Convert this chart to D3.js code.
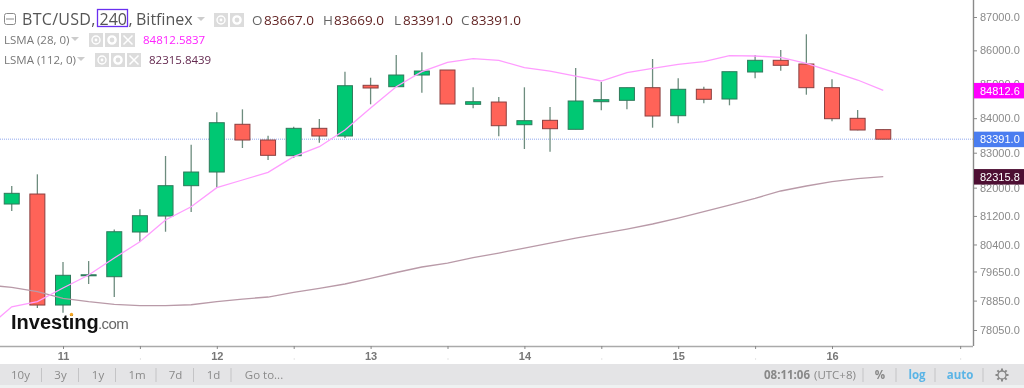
<!DOCTYPE html>
<html><head><meta charset="utf-8">
<style>html,body{margin:0;padding:0;background:#fff;overflow:hidden}svg{display:block;filter:blur(0.4px)}</style>
<script src="https://cdnjs.cloudflare.com/ajax/libs/d3/7.8.5/d3.min.js"></script>
</head><body><svg id="c" width="1024" height="388"></svg>
<script>
const candleOpen=[81536,81819,78729,79539,79506,80748,81197,82056,82446,83822,83366,82914,83705,83482,84963,84922,85267,85415,84405,84472,83810,83938,83676,84481,84522,84893,84072,84846,84560,85356,85703,85593,84893,83996,83667];
const candleHigh=[82047,82380,79912,79939,80818,81386,82905,83231,84171,84258,83491,83752,83976,85365,85187,85861,85941,85415,84904,84619,84904,84326,85474,85060,84893,85742,85169,84922,85365,85861,86010,86480,85140,84238,83669];
const candleLow=[81338,78647,78519,79305,78948,80477,80756,81310,82000,83136,82790,82848,83288,83424,84405,84913,84746,84414,84288,83473,83107,83029,83676,84229,84258,83723,83851,84434,84376,85169,85394,84687,83909,83647,83391];
const candleClose=[81839,78729,79545,79559,80756,81206,82056,82446,83868,83366,82925,83705,83482,84951,84884,85267,85385,84414,84481,83781,83927,83694,84502,84540,84893,84063,84846,84552,85365,85703,85555,84893,83985,83656,83391];
const lsma28=[78077,78682,78825,79195,79553,80023,80477,81085,81459,82000,82218,82437,82886,83173,83656,84297,84922,85365,85644,85751,85703,85483,85385,85237,85090,85336,85465,85584,85662,85840,85831,85792,85614,85365,85119,84812.58];
const lsma112=[79277,79214,79093,78913,78820,78748,78710,78710,78737,78820,78893,78948,79077,79187,79305,79462,79622,79774,79884,80036,80162,80301,80440,80580,80706,80832,80973,81141,81324,81508,81697,81905,82047,82170,82255,82315.84];
const priceTicks=[78050,78850,79650,80400,81200,82000,83000,84000,85000,86000,87000];
const timeTickIndex=[2,5,8,11,14,17,20,23,26,29,32,37];
const timeTickLabels=["11","","12","","13","","14","","15","","16",""];
const rangeButtons=["10y","3y","1y","1m","7d","1d","Go to..."];
const lastPrice=83391, ma28Last=84812.6, ma112Last=82315.8;

const svg=d3.select("#c");
const F="'Liberation Sans',Arial,sans-serif", H="'Open Sans',sans-serif";
const W=973,B=346;
const x=d3.scaleLinear().domain([2,32]).range([63,832]);
const y=d3.scaleLog().domain([78050,87000]).range([330,17]);
svg.append("defs").append("clipPath").attr("id","plot").append("rect").attr("width",W).attr("height",B);
const plot=svg.append("g").attr("clip-path","url(#plot)");

plot.append("line").attr("x1",0).attr("x2",W).attr("y1",y(lastPrice)).attr("y2",y(lastPrice))
 .attr("stroke","#8fa8ee").attr("stroke-width",1).attr("stroke-dasharray","1 1");

const candles=d3.range(candleOpen.length);
const g=plot.selectAll("g.k").data(candles).join("g").attr("class","k");
g.append("line").attr("x1",i=>x(i)).attr("x2",i=>x(i)).attr("y1",i=>y(candleHigh[i])).attr("y2",i=>y(candleLow[i]))
 .attr("stroke","#6d8c7e").attr("stroke-width",1.3);
g.append("rect").attr("x",i=>x(i)-7.5).attr("width",15)
 .attr("y",i=>y(Math.max(candleOpen[i],candleClose[i])))
 .attr("height",i=>Math.max(1,Math.abs(y(candleOpen[i])-y(candleClose[i]))))
 .attr("fill",i=>candleClose[i]>=candleOpen[i]?"#00c873":"#ff6358")
 .attr("stroke",i=>candleClose[i]>=candleOpen[i]?"#2f7a5c":"#8a4040").attr("stroke-width",1);

const line=d3.line().x((d,i)=>x(i-1)).y(d=>y(d));
plot.append("path").datum(lsma112).attr("d",line).attr("fill","none").attr("stroke","#b99aa8").attr("stroke-width",1.3);
plot.append("path").datum(lsma28).attr("d",line).attr("fill","none").attr("stroke","#ff9cff").attr("stroke-width",1.3);

const ya=svg.append("g").attr("transform",`translate(${W},0)`).call(d3.axisRight(y).tickValues(priceTicks).tickFormat(d3.format(".1f")).tickSize(4).tickPadding(3));
ya.select(".domain").attr("d",`M0.5,0V${B}`).attr("stroke","#8a8a8a").attr("stroke-width",1.4);
ya.selectAll(".tick line").attr("stroke","#8a8a8a");
ya.selectAll("text").attr("font-family",F).attr("font-size",11).attr("fill","#8a8a8a");

const xa=svg.append("g").attr("transform",`translate(0,${B})`).call(d3.axisBottom(x).tickValues(timeTickIndex).tickFormat((d,i)=>timeTickLabels[i]).tickSize(3).tickPadding(3));
xa.select(".domain").attr("d",`M0,0.5H${W}`).attr("stroke","#aaaaaa").attr("stroke-width",1.5);
xa.selectAll(".tick line").attr("stroke","#888");
xa.selectAll("text").attr("font-family",F).attr("font-size",11).attr("font-weight","bold").attr("fill","#777");
xa.selectAll(".tick").filter((d,i)=>!timeTickLabels[i]).append("rect").attr("x",-0.5).attr("y",12.5).attr("width",1).attr("height",1).attr("fill","#ccc");

[[ma28Last,"#ff00ff","#fff",d3.format(".1f")(ma28Last)],[lastPrice,"#4a7df0","#fff",d3.format(".1f")(lastPrice)],[ma112Last,"#4d0f33","#fff",d3.format(".1f")(ma112Last)]].forEach(t=>{
 const yy=y(t[0]);
 svg.append("rect").attr("x",W+1).attr("y",yy-7.5).attr("width",50).attr("height",15.5).attr("fill",t[1]);
 svg.append("text").attr("x",980).attr("y",yy+4.2).attr("font-family",F).attr("font-size",11).attr("fill",t[2]).text(t[3]);
});

function txt(s,px,py,size,fill,fam,extra){const e=svg.append("text").attr("x",px).attr("y",py).attr("font-size",size).attr("fill",fill).attr("font-family",fam||H).text(s);if(extra)Object.entries(extra).forEach(([k,v])=>e.attr(k,v));return e;}
function caret(px,py,c){svg.append("path").attr("d",`M${px-4},${py-2}h8l-4,4z`).attr("fill",c||"#ccc");}
function icon(px,py,kind,s){
 s=s||14;
 svg.append("rect").attr("x",px).attr("y",py).attr("width",s).attr("height",s).attr("fill","#dcdcdc");
 const cx=px+s/2,cy=py+s/2;
 if(kind==="eye"){svg.append("circle").attr("cx",cx).attr("cy",cy).attr("r",4).attr("fill","none").attr("stroke","#fff").attr("stroke-width",1.4);svg.append("circle").attr("cx",cx).attr("cy",cy).attr("r",1.4).attr("fill","#fff");}
 if(kind==="gear"){svg.append("circle").attr("cx",cx).attr("cy",cy).attr("r",3.6).attr("fill","none").attr("stroke","#fff").attr("stroke-width",2.4);}
 if(kind==="x"){svg.append("path").attr("d",`M${cx-4.5},${cy-4.5}L${cx+4.5},${cy+4.5}M${cx+4.5},${cy-4.5}L${cx-4.5},${cy+4.5}`).attr("stroke","#fff").attr("stroke-width",1.5);}
}
svg.append("rect").attr("x",4.5).attr("y",13.5).attr("width",11).attr("height",11).attr("rx",2).attr("fill","none").attr("stroke","#8a8a8a");
svg.append("line").attr("x1",6).attr("x2",14).attr("y1",19).attr("y2",19).attr("stroke","#8a8a8a");
txt("BTC/USD,",22,25,16,"#555",H,{"letter-spacing":"0.3"});
svg.append("rect").attr("x",97.5).attr("y",9.5).attr("width",30).attr("height",17).attr("fill","none").attr("stroke","#6a2ff0").attr("stroke-width",1.3);
txt("240",99.5,25,16,"#555");
txt(",",128.5,25,16,"#555");
txt("Bitfinex",136,25,16,"#555");
caret(201,19);
icon(214,13,"eye",14);icon(230,13,"gear",14);
[["O",252,"83667.0",264],["H",323,"83669.0",334],["L",394,"83391.0",403],["C",461,"83391.0",471]].forEach(o=>{
 txt(o[0],o[1],25,13.5,"#666");txt(o[2],o[3],25,13.5,"#5f1f1f");
});
txt("LSMA (28, 0)",4,44,11.5,"#777");caret(75,39);
icon(89,33,"eye");icon(105,33,"gear");icon(121,33,"x");
txt("84812.5837",143,44,11.5,"#ff22ff");
txt("LSMA (112, 0)",4,64,11.5,"#777");caret(81,59);
icon(95,53,"eye");icon(111,53,"gear");icon(127,53,"x");
txt("82315.8439",149,64,11.5,"#642a50");

txt("Investing",11,329,20,"#111",F,{"font-weight":"bold"});
txt(".com",98,329,15,"#666",F,{"letter-spacing":"-0.6"});
svg.append("circle").attr("cx",71.5).attr("cy",314.5).attr("r",1.7).attr("fill","#f5a623");

svg.append("rect").attr("x",0).attr("y",364).attr("width",1024).attr("height",21).attr("fill","#e4e4e6");
svg.append("rect").attr("x",0).attr("y",385).attr("width",1024).attr("height",3).attr("fill","#eef1f1");
const bx=[20.5,60.5,98,137,175.5,213.5,264];
rangeButtons.forEach((b,i)=>txt(b,bx[i],379,11.5,"#8a8a8a",H,{"text-anchor":"middle"}));
[41.5,78.5,115.5,156,193.5,231,863,896,935,983].forEach(px=>svg.append("line").attr("x1",px).attr("x2",px).attr("y1",368).attr("y2",382).attr("stroke","#c4c4c6"));
txt("08:11:06",764,379,11.5,"#888",H,{"font-weight":"bold"});
txt("(UTC+8)",814,379,11.5,"#888");
txt("%",880,379,11.5,"#888",H,{"text-anchor":"middle","font-weight":"bold"});
txt("log",917,379,11.5,"#5ab4e6",H,{"text-anchor":"middle","font-weight":"bold"});
txt("auto",960,379,11.5,"#5ab4e6",H,{"text-anchor":"middle","font-weight":"bold"});
const gear=svg.append("g").attr("transform","translate(1002,375)");
gear.append("circle").attr("r",4).attr("fill","none").attr("stroke","#888").attr("stroke-width",1.3);
d3.range(8).forEach(k=>gear.append("rect").attr("x",-1).attr("y",-6.5).attr("width",2).attr("height",2.5).attr("fill","#888").attr("transform",`rotate(${k*45})`));
</script></body></html>
